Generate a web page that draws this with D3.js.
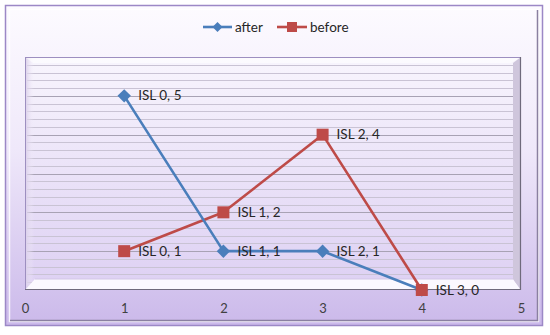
<!DOCTYPE html>
<html><head><meta charset="utf-8">
<script src="https://cdn.jsdelivr.net/npm/d3@7"></script>
<style>body{margin:0;background:#fff}svg{display:block}</style>
</head><body><svg id="c" width="550" height="335"></svg>
<script>
const xTicks = [0,1,2,3,4,5];
const afterX = [1,2,3,4];
const afterY = [5,1,1,0];
const afterLabels = ["ISL 0, 5","ISL 1, 1","ISL 2, 1",""];
const beforeX = [1,2,3,4];
const beforeY = [1,2,4,0];
const beforeLabels = ["ISL 0, 1","ISL 1, 2","ISL 2, 4","ISL 3, 0"];
const seriesNames = ["after","before"];

const svg = d3.select("#c");
const font = "Lato, 'Open Sans', sans-serif";
const defs = svg.append("defs");
const g1 = defs.append("linearGradient").attr("id","bg").attr("x1",0).attr("y1",0).attr("x2",0).attr("y2",1);
g1.append("stop").attr("offset","0%").attr("stop-color","#fdfbff");
g1.append("stop").attr("offset","45%").attr("stop-color","#efe8fa");
g1.append("stop").attr("offset","100%").attr("stop-color","#cbb9ea");
const g2 = defs.append("linearGradient").attr("id","pa").attr("x1",0).attr("y1",0).attr("x2",0).attr("y2",1);
g2.append("stop").attr("offset","0%").attr("stop-color","#f8f5fd");
g2.append("stop").attr("offset","100%").attr("stop-color","#ddd0f3");
const gl = defs.append("linearGradient").attr("id","lb").attr("x1",0).attr("y1",0).attr("x2",1).attr("y2",0);
gl.append("stop").attr("offset","0%").attr("stop-color","#d8cce8");
gl.append("stop").attr("offset","100%").attr("stop-color","#f3eefa").attr("stop-opacity",0);

// outer frame
svg.append("rect").attr("x",5.5).attr("y",5.5).attr("width",537).attr("height",320)
  .attr("fill","url(#bg)").attr("stroke","#9c88c6").attr("stroke-width",1.5);
svg.append("rect").attr("x",9.5).attr("y",9.5).attr("width",529).attr("height",312)
  .attr("fill","none").attr("stroke","#ffffff").attr("stroke-opacity",0.8).attr("stroke-width",1.5);
svg.append("path").attr("d","M537.5,10 V320.5 H10").attr("fill","none").attr("stroke","#8a80a0").attr("stroke-width",1.5);

const L=25, R=521, T=57, B=290;
const x = d3.scaleLinear().domain([0,5]).range([L,R]);
const y = d3.scaleLinear().domain([0,6]).range([B,T]);

// plot area
svg.append("rect").attr("x",L).attr("y",T).attr("width",R-L).attr("height",B-T).attr("fill","url(#pa)");
// gridlines
const gv = d3.range(1,30).map(i=>i/5);
svg.append("g").selectAll("line").data(gv).join("line")
  .attr("x1",L+2).attr("x2",R).attr("y1",d=>Math.round(y(d))+0.5).attr("y2",d=>Math.round(y(d))+0.5)
  .attr("stroke",d=>Math.abs(d-Math.round(d))<1e-6?"#a8a2b4":"#c9c3d4").attr("stroke-width",1);
// bevel
svg.append("rect").attr("x",L).attr("y",T).attr("width",9).attr("height",B-T).attr("fill","url(#lb)");
svg.append("path").attr("d",`M${L},${T} H${R} L${R-10},${T+6} H${L+8} Z`).attr("fill","#ffffff").attr("opacity",0.55);
svg.append("path").attr("d",`M${L},${B} H${R} L${R-8},${B-11} H${L+10} Z`).attr("fill","#fbf9ff");
svg.append("path").attr("d",`M${L+10},${B-11} H${R-8}`).attr("stroke","#d2c6e6").attr("stroke-width",1);
svg.append("path").attr("d",`M${R},${T} V${B} L${R-8},${B-11} V${T+6} Z`).attr("fill","#cfc6dc");
svg.append("rect").attr("x",L+0.5).attr("y",T+0.5).attr("width",R-L-1).attr("height",B-T-1)
  .attr("fill","none").attr("stroke","#9d8fc0").attr("stroke-width",1);
svg.append("path").attr("d",`M${R-0.5},${T} V${B-0.5} H${L}`).attr("fill","none").attr("stroke","#6f6a7c").attr("stroke-width",1.2);

// x axis labels
const xa = d3.axisBottom(x).tickValues(xTicks).tickSize(0).tickPadding(0).tickFormat(d3.format("d"));
const xg = svg.append("g").attr("transform",`translate(0,${B+14})`).call(xa);
xg.select(".domain").remove();
xg.selectAll("text").attr("font-family",font).attr("font-size",13).attr("fill","#404040");

const blue="#4a7ebb", red="#be4b48";
const line = d3.line().x(d=>x(d[0])).y(d=>y(d[1]));
const aPts = afterX.map((v,i)=>[v,afterY[i],afterLabels[i]]);
const bPts = beforeX.map((v,i)=>[v,beforeY[i],beforeLabels[i]]);

svg.append("path").datum(bPts).attr("d",line).attr("fill","none").attr("stroke",red).attr("stroke-width",2.6).attr("stroke-linejoin","round");
svg.append("path").datum(aPts).attr("d",line).attr("fill","none").attr("stroke",blue).attr("stroke-width",2.6).attr("stroke-linejoin","round");
svg.append("g").selectAll("path").data(aPts).join("path")
  .attr("d",d3.symbol(d3.symbolSquare,90)).attr("transform",d=>`translate(${x(d[0])},${y(d[1])}) rotate(45)`)
  .attr("fill",blue);
svg.append("g").selectAll("rect").data(bPts).join("rect")
  .attr("x",d=>x(d[0])-6).attr("y",d=>y(d[1])-6).attr("width",12).attr("height",12).attr("fill",red);

// labels
svg.append("g").selectAll("text").data(aPts.concat(bPts).filter(d=>d[2])).join("text")
  .attr("x",d=>x(d[0])+14).attr("y",d=>y(d[1])+4.5).text(d=>d[2])
  .attr("font-family",font).attr("font-size",13.5).attr("fill","#262626");

// legend
const lg = svg.append("g");
lg.append("line").attr("x1",203).attr("x2",232).attr("y1",27).attr("y2",27).attr("stroke",blue).attr("stroke-width",2.6);
lg.append("path").attr("d",d3.symbol(d3.symbolSquare,50)).attr("transform","translate(217.5,27) rotate(45)").attr("fill",blue);
lg.append("text").attr("x",235).attr("y",31.5).text(seriesNames[0]).attr("font-family",font).attr("font-size",13.5).attr("fill","#262626");
lg.append("line").attr("x1",277).attr("x2",307).attr("y1",27).attr("y2",27).attr("stroke",red).attr("stroke-width",2.6);
lg.append("rect").attr("x",287).attr("y",22).attr("width",10).attr("height",10).attr("fill",red);
lg.append("text").attr("x",310).attr("y",31.5).text(seriesNames[1]).attr("font-family",font).attr("font-size",13.5).attr("fill","#262626");
</script></body></html>
